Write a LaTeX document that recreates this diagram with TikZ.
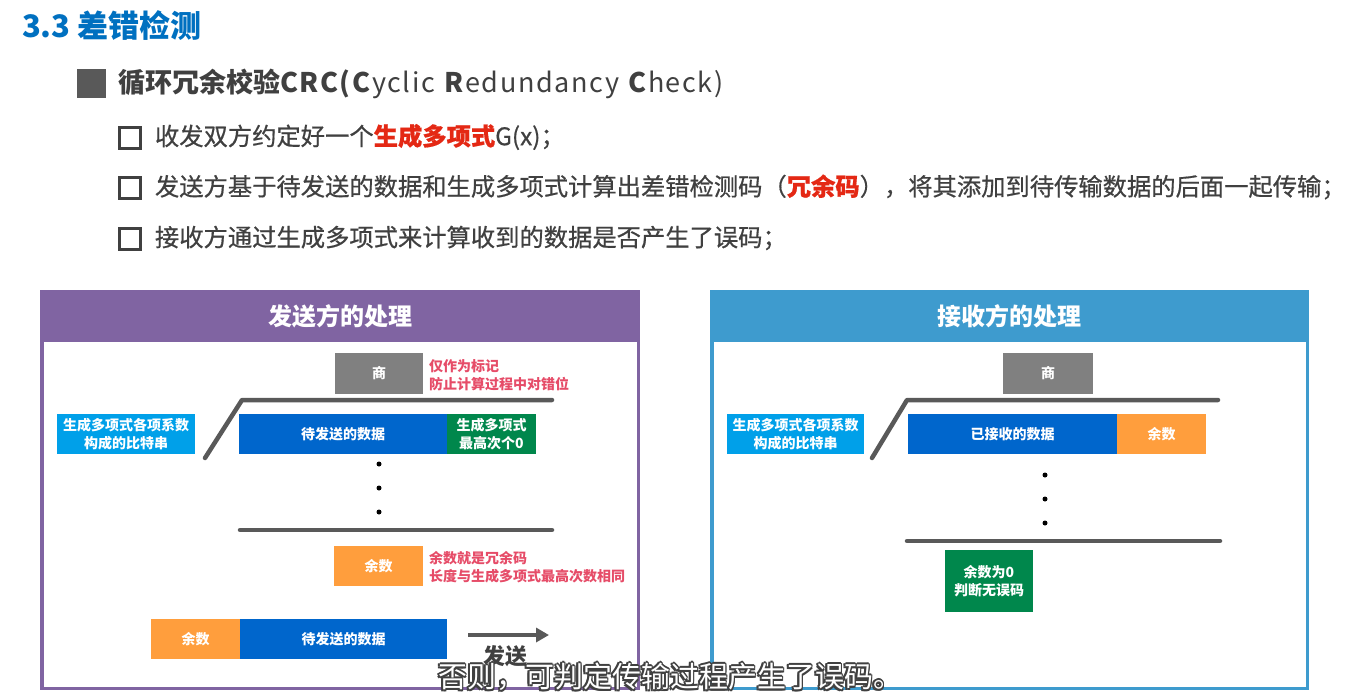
\documentclass[tikz,border=0pt]{standalone}
\usepackage{fontspec}
\setmainfont{Noto Sans CJK SC}
\newfontfamily\medfont{Noto Sans CJK SC}[FakeBold=0.6]
\usepackage{xcolor}
\usetikzlibrary{arrows.meta,positioning}

\definecolor{titleblue}{RGB}{0,112,192}
\definecolor{textgray}{RGB}{64,64,64}
\definecolor{keyred}{RGB}{228,40,20}
\definecolor{sendpurple}{RGB}{128,100,162}
\definecolor{recvblue}{RGB}{62,155,206}
\definecolor{datablue}{RGB}{0,102,204}
\definecolor{keycyan}{RGB}{0,160,233}
\definecolor{zerogreen}{RGB}{0,135,76}
\definecolor{remorange}{RGB}{255,158,61}
\definecolor{quotgray}{RGB}{128,128,128}
\definecolor{linegray}{RGB}{89,89,89}
\definecolor{notered}{RGB}{230,76,104}

\newcommand{\px}[2]{\fontsize{#1}{#2}\selectfont}

\begin{document}
\begin{tikzpicture}[x=1pt, y=-1pt, node distance=0pt, every node/.style={inner sep=0pt, outer sep=0pt}]
    \tikzstyle{cell} = [rectangle, text=white, font=\px{14}{18}\bfseries, align=center, minimum height=40]
    \tikzstyle{head} = [rectangle, text=white, font=\px{24}{28}\bfseries, minimum height=52]
    \tikzstyle{frame} = [rectangle, line width=3.5]
    \tikzstyle{note} = [anchor=west, align=left, text=notered, font=\px{14}{18}\bfseries]
    \tikzstyle{hollow} = [rectangle, draw=textgray, line width=2.5, minimum size=21]
    \tikzstyle{bullet} = [anchor=west, text=textgray, font=\medfont\px{24.3}{28}]
    \tikzstyle{rule} = [draw=linegray, line width=4.5, line cap=round, line join=round]
    \tikzstyle{bitdot} = [circle, fill=black, minimum size=5]
    \tikzstyle{subedge} = [text=textgray, font=\px{29}{32}]

    \useasboundingbox (0,0) rectangle (1347,697);
    \fill[white] (0,0) rectangle (1347,697);

    \node (title) [anchor=west, text=titleblue, font=\px{31}{36}\bfseries] at (22,26) {3.3 差错检测};
    \node (sq) [rectangle, fill=linegray, minimum size=29] at (91.5,83.5) {};
    \node (crc) [anchor=west, text=textgray, font=\px{27}{32}] at (118,84)
        {\textbf{循环冗余校验}{\addfontfeature{LetterSpace=6}\textbf{CRC(C}yclic \textbf{R}edundancy \textbf{C}heck)}};

    \node (box1) [hollow] at (130,138) {};
    \node (box2) [hollow] at (130,188) {};
    \node (box3) [hollow] at (130,239) {};
    \node (line1) [bullet] at (155,137) {收发双方约定好一个\textcolor{keyred}{\bfseries 生成多项式}G(x)；};
    \node (line2) [bullet] at (155,187) {发送方基于待发送的数据和生成多项式计算出差错检测码（\textcolor{keyred}{\bfseries 冗余码}），将其添加到待传输数据的后面一起传输；};
    \node (line3) [bullet] at (155,238) {接收方通过生成多项式来计算收到的数据是否产生了误码；};

    \node (sendframe) [frame, draw=sendpurple, minimum width=596.5, minimum height=396.5] at (340,490) {};
    \node (sendhead) [head, fill=sendpurple, minimum width=600] at (340,316) {发送方的处理};

    \node (sendkey) [cell, fill=keycyan, minimum width=138] at (126,434) {生成多项式各项系数\\构成的比特串};
    \node (sendquot) [cell, fill=quotgray, minimum width=88, minimum height=41] at (379,373.5) {商};
    \node (quotnote) [note] at (429,375) {仅作为标记\\防止计算过程中对错位};
    \node (senddata) [cell, fill=datablue, minimum width=208] at (343,434) {待发送的数据};
    \node (sendzero) [cell, fill=zerogreen, minimum width=89, right=of senddata] {生成多项式\\最高次个0};
    \draw [rule] (205,458) -- (242,400) -- (552,400);
    \node (sdot1) [bitdot] at (379,464) {};
    \node (sdot2) [bitdot] at (379,488) {};
    \node (sdot3) [bitdot] at (379,512) {};
    \draw [rule] (240,530) -- (552,530);
    \node (sendrem) [cell, fill=remorange, minimum width=89] at (378.5,566) {余数};
    \node (remnote) [note] at (429,567) {余数就是冗余码\\长度与生成多项式最高次数相同};

    \node (outrem) [cell, fill=remorange, minimum width=89] at (195.5,639) {余数};
    \node (outdata) [cell, fill=datablue, minimum width=207, right=of outrem] {待发送的数据};
    \coordinate (sendfrom) at (468,635);
    \coordinate (sendto) at (549,635);
    \draw [-{Triangle[length=13,width=14]}, line width=4, linegray] (sendfrom) -- (sendto);
    \node (sendlbl) [text=textgray, font=\px{22}{26}\bfseries] at (505,656) {发送};

    \node (recvframe) [frame, draw=recvblue, minimum width=595.5, minimum height=396.5] at (1009.5,490) {};
    \node (recvhead) [head, fill=recvblue, minimum width=599] at (1009.5,316) {接收方的处理};

    \node (recvkey) [cell, fill=keycyan, minimum width=137] at (795.5,434) {生成多项式各项系数\\构成的比特串};
    \node (recvquot) [cell, fill=quotgray, minimum width=90, minimum height=41] at (1048,373.5) {商};
    \node (recvdata) [cell, fill=datablue, minimum width=209] at (1012.5,434) {已接收的数据};
    \node (recvrem) [cell, fill=remorange, minimum width=89, right=of recvdata] {余数};
    \draw [rule] (872,458) -- (907,400) -- (1218,400);
    \node (rdot1) [bitdot] at (1045,475) {};
    \node (rdot2) [bitdot] at (1045,499) {};
    \node (rdot3) [bitdot] at (1045,523) {};
    \draw [rule] (907,541) -- (1220,541);
    \node (recvok) [cell, fill=zerogreen, minimum width=88, minimum height=62] at (989,581) {余数为0\\判断无误码};

    \foreach \dx/\dy [count=\k] in {-1.8/0, 1.8/0, 0/-1.8, 0/1.8, -1.3/-1.3, 1.3/1.3, -1.3/1.3, 1.3/-1.3}
        \node (subedge\k) [subedge] at (670+\dx,677+\dy) {否则，可判定传输过程产生了误码。};
    \node (subtitle) [subedge, text=white] at (670,677) {否则，可判定传输过程产生了误码。};
\end{tikzpicture}
\end{document}
